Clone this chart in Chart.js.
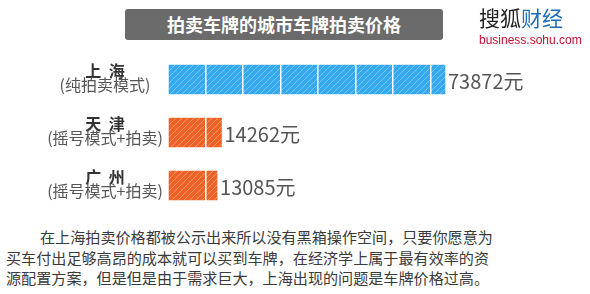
<!DOCTYPE html>
<html>
<head>
<meta charset="utf-8">
<script src="https://cdn.jsdelivr.net/npm/chart.js@4.4.1/dist/chart.umd.min.js"></script>
<style>
  html, body { margin: 0; padding: 0; background: #fff; }
  body { width: 590px; height: 294px; position: relative; overflow: hidden; font-family: "Noto Sans CJK SC", sans-serif; }
  #titleBox {
    position: absolute; left: 125px; top: 9px; width: 318px; height: 31px;
    background: #6b6b6b; border-radius: 3px; color: #fff;
    font-weight: bold; font-size: 18px; line-height: 31px; text-align: center;
  }
  #logo { position: absolute; left: 479px; top: 4px; font-size: 21px; line-height: 26px; white-space: nowrap; }
  #logo .a { color: #222; }
  #logo .b { color: #1e6fb8; }
  #site { position: absolute; left: 479px; top: 33px; font-family: "Liberation Sans Narrow", "Liberation Sans", sans-serif; font-size: 12px; color: #c8102e; white-space: nowrap; }
  #chartWrap { position: absolute; left: 0; top: 0; width: 590px; height: 220px; }
  #note {
    position: absolute; left: 6px; top: 226px; font-size: 15.1px; line-height: 20.7px;
    color: #3a3a3a; white-space: nowrap;
  }
</style>
</head>
<body>
<div id="chartWrap"><canvas id="chart"></canvas></div>
<div id="titleBox">拍卖车牌的城市车牌拍卖价格</div>
<div id="logo"><span class="a">搜狐</span><span class="b">财经</span></div>
<div id="site">business.sohu.com</div>
<div id="note"><span style="padding-left:34px">在上海拍卖价格都被公示出来所以没有黑箱操作空间，只要你愿意为</span><br>买车付出足够高昂的成本就可以买到车牌，在经济学上属于最有效率的资<br>源配置方案，但是但是由于需求巨大，上海出现的问题是车牌价格过高。</div>
<script>
const cities    = ['上 海', '天 津', '广 州'];
const modes     = ['(纯拍卖模式)', '(摇号模式+拍卖)', '(摇号模式+拍卖)'];
const prices    = [73872, 14262, 13085];
const unit      = '元';
const xMax      = 100000;
const gridStep  = 10000;

// diagonal hatch used for the bars
function stripes(base, line) {
    const c = document.createElement('canvas');
    c.width = 6; c.height = 6;
    const g = c.getContext('2d');
    g.fillStyle = base;
    g.fillRect(0, 0, 6, 6);
    g.strokeStyle = line;
    g.lineWidth = 1;
    g.beginPath();
    g.moveTo(-1, 7); g.lineTo(7, -1);
    g.moveTo(-1, 1); g.lineTo(1, -1);
    g.moveTo(5, 7); g.lineTo(7, 5);
    g.stroke();
    return g.createPattern(c, 'repeat');
}

const blueFill   = stripes('#35a9ef', '#78c6f3');
const orangeFill = stripes('#ef6227', '#f4946a');

const labelPlugin = {
    id: 'labels',
    afterDraw(chart) {
        const ctx = chart.ctx;
        const y = chart.scales.y;
        const meta = chart.getDatasetMeta(0);
        ctx.save();
        ctx.textAlign = 'center';
        ctx.textBaseline = 'middle';
        cities.forEach((name, i) => {
            const cy = y.getPixelForValue(i);
            ctx.fillStyle = '#333';
            ctx.font = 'bold 16px "Noto Sans CJK SC"';
            ctx.letterSpacing = '2px';
            ctx.fillText(name, 106, cy - 9);
            ctx.letterSpacing = '0px';
            ctx.fillStyle = '#555';
            ctx.font = '16px "Noto Sans CJK SC"';
            ctx.fillText(modes[i], 105, cy + 5);
        });
        ctx.textAlign = 'left';
        ctx.fillStyle = '#555';
        ctx.font = '20px "Liberation Sans Narrow", "Noto Sans CJK SC"';
        meta.data.forEach((bar, i) => {
            ctx.fillText(prices[i] + unit, bar.x + 3, bar.y + 2);
        });
        ctx.restore();
    }
};

new Chart(document.getElementById('chart'), {
    type: 'bar',
    data: {
        labels: cities,
        datasets: [{
            data: prices,
            backgroundColor: [blueFill, orangeFill, orangeFill],
            borderWidth: 0,
            barThickness: 29
        }]
    },
    options: {
        indexAxis: 'y',
        responsive: true,
        maintainAspectRatio: false,
        animation: false,
        layout: { padding: { left: 168, right: 47, top: 53, bottom: 8 } },
        plugins: { legend: { display: false }, tooltip: { enabled: false } },
        scales: {
            x: {
                min: 0, max: xMax,
                afterBuildTicks(scale) {
                    const t = [];
                    for (let v = 0; v <= xMax; v += gridStep) t.push({ value: v });
                    scale.ticks = t;
                },
                ticks: { display: false },
                border: { display: false },
                grid: { color: '#fff', lineWidth: 1.5, drawTicks: false, z: 1 }
            },
            y: { display: false }
        }
    },
    plugins: [labelPlugin]
});
</script>
</body>
</html>
